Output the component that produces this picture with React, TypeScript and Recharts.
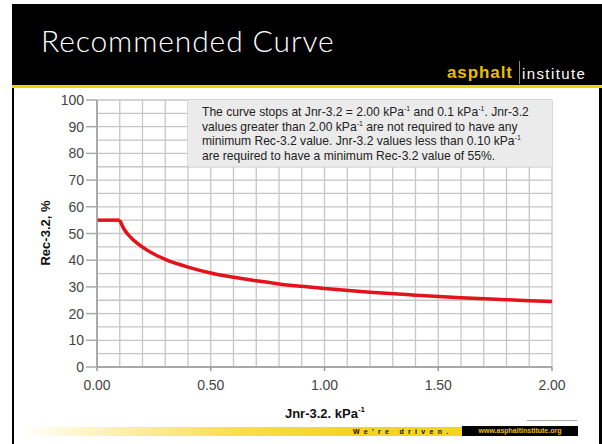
import { LineChart, Line, XAxis, YAxis, CartesianGrid, ReferenceArea } from "recharts";

// flat part of the limit (Jnr below 0.1)
const FLAT_JNR = [0, 0.1];
const FLAT_REC = [55, 55];

// recommended curve
const CURVE_JNR = [0.1, 0.12, 0.15, 0.2, 0.25, 0.3, 0.4, 0.5, 0.6, 0.7, 0.8, 0.9, 1.0, 1.2, 1.4, 1.6, 1.8, 2.0];
const CURVE_REC = [55, 51.5, 48.4, 44.9, 42.3, 40.3, 37.4, 35.2, 33.6, 32.3, 31.1, 30.2, 29.4, 28.0, 26.9, 25.9, 25.2, 24.5];

const X_TICKS = [0, 0.1, 0.2, 0.3, 0.4, 0.5, 0.6, 0.7, 0.8, 0.9, 1.0, 1.1, 1.2, 1.3, 1.4, 1.5, 1.6, 1.7, 1.8, 1.9, 2.0];
const X_LABELS = ["0.00", "0.50", "1.00", "1.50", "2.00"];
const Y_TICKS = [0, 5, 10, 15, 20, 25, 30, 35, 40, 45, 50, 55, 60, 65, 70, 75, 80, 85, 90, 95, 100];

const flatData = FLAT_JNR.map((x, i) => ({ x, y: FLAT_REC[i] }));
const curveData = CURVE_JNR.map((x, i) => ({ x, y: CURVE_REC[i] }));

const FONT = "'Liberation Sans', Arial, sans-serif";

function XTick(props: any) {
  const { x, y, payload } = props;
  const label = payload.value.toFixed(2);
  if (!X_LABELS.includes(label)) return null;
  return (
    <g>
      <line x1={x} y1={y} x2={x} y2={y + 4} stroke="#999" strokeWidth={1.5} />
      <text x={x} y={y + 23} textAnchor="middle" fontSize={14} fill="#444" fontFamily={FONT}>
        {label}
      </text>
    </g>
  );
}

function YTick(props: any) {
  const { x, y, payload } = props;
  if (payload.value % 10 !== 0) return null;
  return (
    <g>
      <line x1={x - 11} y1={y} x2={x} y2={y} stroke="#aaa" strokeWidth={1.5} />
      <text x={x - 13} y={y + 5} textAnchor="end" fontSize={14} fill="#444" fontFamily={FONT}>
        {payload.value}
      </text>
    </g>
  );
}

const sup = { fontSize: 7, verticalAlign: "super" as const, lineHeight: 0 };

export default function App() {
  return (
    <div style={{ position: "relative", width: 602, height: 444, background: "#fff", overflow: "hidden", fontFamily: FONT }}>
      <style>{`body{margin:0}`}</style>

      {/* header */}
      <div style={{ position: "absolute", left: 12, top: 4, width: 590, height: 82, background: "#000" }} />
      <div style={{ position: "absolute", left: 12, top: 85, width: 590, height: 3, background: "#f5cf00" }} />
      <div style={{ position: "absolute", left: 41, top: 22, color: "#fff", fontSize: 30, fontFamily: "Lato, 'Open Sans', sans-serif", fontWeight: 300, letterSpacing: 0.9, whiteSpace: "nowrap" }}>
        Recommended Curve
      </div>
      <div style={{ position: "absolute", left: 447, top: 63, fontSize: 17, fontWeight: 700, color: "#eabd00", letterSpacing: 0.9, lineHeight: "20px" }}>
        asphalt
      </div>
      <div style={{ position: "absolute", left: 519, top: 61, width: 1, height: 23, background: "#888" }} />
      <div style={{ position: "absolute", left: 522, top: 64, fontSize: 15, color: "#fff", letterSpacing: 1.4, lineHeight: "20px" }}>
        institute
      </div>

      {/* slide borders */}
      <div style={{ position: "absolute", left: 12, top: 88, width: 2, height: 356, background: "#000" }} />
      <div style={{ position: "absolute", left: 599, top: 88, width: 3, height: 356, background: "#000" }} />

      <div style={{ position: "absolute", left: 0, top: 0 }}>
        <LineChart width={602} height={444} margin={{ top: 100, right: 50, bottom: 47, left: 37 }}>
          <CartesianGrid stroke="#c6c6c6" strokeWidth={1.3} />
          <XAxis
            type="number"
            dataKey="x"
            domain={[0, 2]}
            ticks={X_TICKS}
            interval={0}
            tick={<XTick />}
            tickSize={0}
            tickMargin={0}
            tickLine={false}
            height={30}
            axisLine={{ stroke: "#9a9a9a", strokeWidth: 1.5 }}
            allowDuplicatedCategory={false}
          />
          <YAxis
            type="number"
            dataKey="y"
            domain={[0, 100]}
            ticks={Y_TICKS}
            interval={0}
            tick={<YTick />}
            tickSize={0}
            tickMargin={0}
            tickLine={false}
            width={60}
            axisLine={{ stroke: "#9a9a9a", strokeWidth: 1.5 }}
          />
          <ReferenceArea x1={0.4} x2={2} y1={75} y2={100} fill="#ebebeb" fillOpacity={1} stroke="none" />
          <Line data={flatData} dataKey="y" type="linear" stroke="#e3121b" strokeWidth={3.5} dot={false} isAnimationActive={false} />
          <Line data={curveData} dataKey="y" type="monotone" stroke="#e3121b" strokeWidth={3.5} dot={false} isAnimationActive={false} />
        </LineChart>
      </div>

      {/* note box text */}
      <div style={{ position: "absolute", left: 202, top: 105, fontSize: 12.1, lineHeight: "14.5px", color: "#222", whiteSpace: "nowrap" }}>
        The curve stops at Jnr-3.2 = 2.00 kPa<span style={sup}>-1</span> and 0.1 kPa<span style={sup}>-1</span>. Jnr-3.2
        <br />
        values greater than 2.00 kPa<span style={sup}>-1</span> are not required to have any
        <br />
        minimum Rec-3.2 value. Jnr-3.2 values less than 0.10 kPa<span style={sup}>-1</span>
        <br />
        are required to have a minimum Rec-3.2 value of 55%.
      </div>

      {/* axis titles */}
      <div style={{ position: "absolute", left: 45, top: 233, transform: "translate(-50%, -50%) rotate(-90deg)", fontSize: 13, fontWeight: 700, color: "#111", whiteSpace: "nowrap" }}>
        Rec-3.2, %
      </div>
      <div style={{ position: "absolute", left: 325, top: 413, transform: "translate(-50%, -50%)", fontSize: 13, fontWeight: 700, color: "#111", whiteSpace: "nowrap" }}>
        Jnr-3.2. kPa<span style={{ fontSize: 8, verticalAlign: "super", lineHeight: 0 }}>-1</span>
      </div>

      {/* footer */}
      <div style={{ position: "absolute", left: 527, top: 420, width: 50, height: 1, background: "#aaa" }} />
      <div style={{ position: "absolute", left: 22, top: 427, width: 440, height: 9, background: "linear-gradient(90deg, rgba(250,216,40,0) 0%, rgba(250,216,40,0.35) 20%, rgba(248,212,30,0.8) 50%, #f7d21e 75%)" }} />
      <div style={{ position: "absolute", left: 353, top: 427, fontSize: 7, fontWeight: 700, color: "#111", letterSpacing: 4.3, lineHeight: "9px", whiteSpace: "nowrap" }}>
        We're driven.
      </div>
      <div style={{ position: "absolute", left: 462, top: 426, width: 116, height: 10, background: "#000", color: "#e8c200", fontSize: 7, fontWeight: 700, lineHeight: "10px", textAlign: "center", whiteSpace: "nowrap" }}>
        www.asphaltinstitute.org
      </div>
    </div>
  );
}
